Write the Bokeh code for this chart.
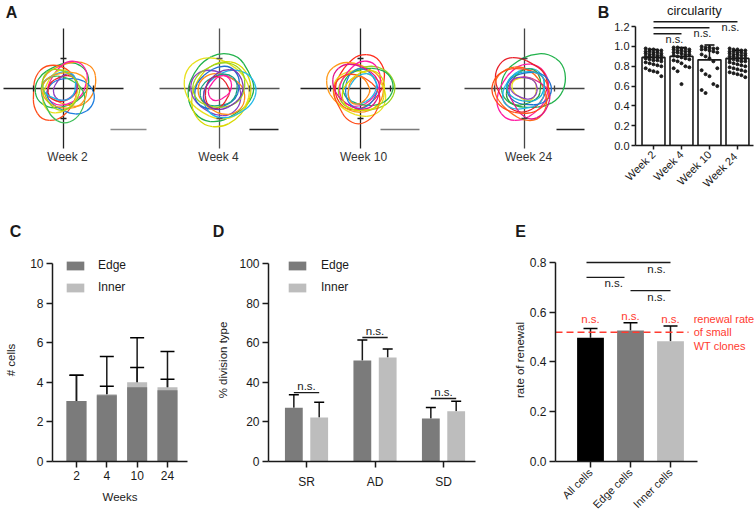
import math
from bokeh.plotting import figure
from bokeh.layouts import row, column
from bokeh.models import (Range1d, FixedTicker, Whisker, TeeHead, ColumnDataSource,
                          Legend, LegendItem, NumeralTickFormatter)
from bokeh.core.properties import value
from bokeh.embed import file_html
from bokeh.resources import INLINE

FONT = "Liberation Sans"
BLACK = "#1a1a1a"
EDGE_C = "#7b7b7b"
INNER_C = "#bdbdbd"
RED = "#ff3b30"

# ---------------- Panel A data (clone outlines: radii in px at 12 equal angles)
A_WEEKS = ["Week 2", "Week 4", "Week 10", "Week 24"]

W2_COLORS = ["#22b24c", "#ff8c1a", "#ff4d1a", "#ff1aa3", "#1f7fe0", "#e8e01c", "#3fbf5a", "#e8202a",
             "#8a3fc0", "#1fb8e8", "#ff9a1a", "#9ad41c"]
W2_DX = [-2, 3, -6, 4, 6, -2, 0, 0, 2, -4, 2, -3]
W2_DY = [3, 5, -4, 2, -6, -4, -8, 0, 1, 2, -2, 0]
W2_R = [[28, 30, 27, 22, 20, 23, 27, 29, 26, 22, 21, 24],
        [30, 32, 26, 20, 19, 22, 26, 24, 20, 22, 27, 29],
        [20, 22, 25, 28, 30, 27, 24, 28, 32, 28, 22, 19],
        [18, 24, 28, 26, 20, 18, 20, 24, 22, 18, 16, 17],
        [26, 22, 18, 16, 18, 22, 24, 20, 17, 19, 23, 26],
        [16, 18, 22, 24, 20, 17, 18, 22, 24, 20, 17, 16],
        [22, 20, 18, 20, 24, 26, 22, 20, 24, 28, 26, 23],
        [14, 16, 15, 13, 12, 14, 16, 17, 15, 13, 12, 13],
        [12, 13, 15, 14, 11, 10, 12, 14, 15, 13, 11, 11],
        [16, 19, 18, 14, 13, 15, 18, 16, 13, 14, 16, 17],
        [22, 24, 21, 18, 19, 23, 25, 22, 19, 18, 20, 22],
        [20, 18, 17, 19, 22, 21, 18, 17, 20, 23, 22, 20]]

W4_COLORS = ["#22b24c", "#e8e01c", "#d8d800", "#8a3fc0", "#1fb8e8", "#1f6fd0", "#ff8c1a", "#16a085",
             "#e8202a", "#ff1aa3", "#9ad41c", "#7a35b0"]
W4_DX = [0, -3, 2, -4, 8, -2, 2, 0, -3, 0, 0, 4]
W4_DY = [0, 0, -6, -4, -2, 0, -6, -2, -4, 0, 2, -2]
W4_R = [[36, 34, 38, 36, 32, 30, 32, 35, 37, 34, 30, 33],
        [34, 30, 28, 31, 35, 36, 33, 30, 28, 31, 34, 35],
        [30, 33, 36, 34, 30, 28, 30, 34, 36, 33, 29, 28],
        [26, 24, 20, 22, 26, 28, 25, 22, 20, 23, 27, 28],
        [30, 28, 24, 20, 18, 20, 24, 28, 30, 28, 26, 28],
        [22, 25, 26, 22, 19, 20, 23, 26, 24, 20, 19, 21],
        [24, 22, 19, 21, 24, 26, 24, 20, 18, 20, 23, 25],
        [18, 20, 19, 16, 15, 17, 20, 21, 18, 15, 16, 17],
        [14, 13, 15, 17, 15, 12, 11, 13, 16, 17, 14, 12],
        [12, 14, 15, 13, 10, 9, 11, 13, 14, 12, 10, 11],
        [26, 28, 27, 24, 22, 25, 28, 27, 23, 21, 23, 25],
        [20, 22, 24, 21, 18, 17, 20, 23, 22, 19, 17, 18]]

W10_COLORS = ["#ff2a1a", "#ff9a1a", "#9ad41c", "#e8e01c", "#ff1aa3", "#22b24c", "#1f7fe0", "#ff4d1a",
              "#1fb8e8", "#ff8c1a", "#e0148c", "#d8d800"]
W10_DX = [-2, -6, 4, 0, 0, 6, 0, -2, 2, -2, -4, 4]
W10_DY = [6, 0, 0, -6, 4, 2, 0, -8, 0, -2, 2, -4]
W10_R = [[26, 30, 32, 28, 22, 20, 23, 27, 30, 28, 24, 24],
         [30, 28, 24, 26, 30, 32, 28, 24, 22, 24, 27, 30],
         [32, 30, 26, 22, 21, 24, 27, 28, 25, 22, 24, 29],
         [26, 24, 22, 24, 27, 30, 28, 24, 21, 22, 25, 27],
         [20, 23, 26, 24, 19, 18, 21, 24, 25, 22, 19, 18],
         [28, 26, 21, 18, 19, 22, 25, 24, 20, 19, 22, 26],
         [18, 17, 19, 21, 19, 16, 15, 17, 20, 21, 19, 17],
         [22, 20, 19, 22, 26, 28, 25, 22, 26, 29, 26, 23],
         [14, 16, 17, 15, 13, 12, 14, 17, 18, 15, 13, 13],
         [12, 11, 13, 15, 13, 11, 10, 12, 15, 14, 12, 11],
         [24, 22, 20, 22, 26, 27, 24, 21, 20, 23, 26, 25],
         [20, 23, 25, 22, 19, 20, 23, 24, 21, 18, 19, 21]]

W24_COLORS = ["#22b24c", "#ff1aa3", "#e8202a", "#ff6a1a", "#1fb8e8", "#1f6fd0", "#2e9e3e", "#e0148c",
              "#e8e01c", "#8a3fc0", "#ff4d1a", "#17b0d8"]
W24_DX = [6, -2, -4, -2, 0, 4, 0, 6, 0, -1, -4, 2]
W24_DY = [6, -4, 4, -6, -2, 0, 0, -6, 0, 1, -2, 2]
W24_R = [[36, 38, 34, 28, 25, 27, 30, 32, 28, 25, 28, 33],
         [26, 30, 32, 29, 24, 22, 25, 30, 32, 28, 24, 24],
         [28, 27, 24, 27, 31, 29, 25, 23, 26, 29, 28, 27],
         [24, 22, 24, 28, 31, 32, 28, 23, 22, 26, 30, 28],
         [20, 23, 25, 22, 20, 19, 22, 25, 22, 18, 19, 21],
         [24, 22, 19, 16, 17, 21, 23, 21, 18, 16, 19, 23],
         [16, 19, 22, 20, 16, 15, 18, 21, 20, 16, 15, 17],
         [20, 17, 15, 17, 21, 24, 22, 19, 22, 26, 24, 21],
         [12, 13, 12, 11, 12, 14, 13, 11, 10, 12, 14, 13],
         [14, 13, 11, 10, 12, 15, 14, 12, 10, 11, 14, 15],
         [30, 27, 23, 22, 25, 29, 30, 27, 24, 23, 26, 29],
         [18, 20, 17, 15, 16, 19, 21, 19, 16, 15, 17, 18]]

# ---------------- Panel B data
B_WEEKS = ["Week 2", "Week 4", "Week 10", "Week  24"]
B_MEAN = [0.89, 0.90, 0.865, 0.88]
B_SD = [0.08, 0.09, 0.15, 0.08]
B_W2 = [0.98, 0.97, 0.97, 0.96, 0.96, 0.95, 0.95, 0.94, 0.94, 0.93, 0.93, 0.92, 0.92, 0.91, 0.91,
        0.90, 0.90, 0.89, 0.89, 0.88, 0.88, 0.87, 0.86, 0.86, 0.85, 0.84, 0.83, 0.82, 0.81, 0.80,
        0.78, 0.76, 0.75, 0.74, 0.70]
B_W4 = [0.99, 0.99, 0.98, 0.98, 0.97, 0.97, 0.96, 0.96, 0.95, 0.95, 0.94, 0.94, 0.93, 0.92,
        0.92, 0.91, 0.90, 0.89, 0.88, 0.87, 0.86, 0.85, 0.83, 0.80, 0.79, 0.78, 0.75, 0.62]
B_W10 = [1.00, 0.99, 0.99, 0.98, 0.98, 0.97, 0.97, 0.96, 0.95, 0.94, 0.92, 0.90, 0.88, 0.85,
         0.78, 0.76, 0.72, 0.70, 0.62, 0.60, 0.56, 0.53]
B_W24 = [0.98, 0.97, 0.97, 0.96, 0.96, 0.95, 0.95, 0.94, 0.94, 0.93, 0.93, 0.92, 0.92, 0.91,
         0.91, 0.90, 0.90, 0.89, 0.88, 0.88, 0.87, 0.87, 0.86, 0.85, 0.85, 0.84, 0.83, 0.82,
         0.81, 0.80, 0.79, 0.78, 0.77, 0.76, 0.75, 0.74, 0.73, 0.72, 0.71, 0.69]
B_SIG_END = [1, 2, 3]
B_SIG_Y = [1.13, 1.19, 1.25]
B_YTICKS = [0.0, 0.2, 0.4, 0.6, 0.8, 1.0, 1.2]

# ---------------- Panel C data
C_WEEKS = ["2", "4", "10", "24"]
C_EDGE = [3.05, 3.35, 3.75, 3.6]
C_INNER = [3.05, 3.4, 4.0, 3.75]
C_EDGE_TOP = [4.35, 5.3, 6.25, 5.55]
C_INNER_TOP = [4.35, 3.8, 4.75, 4.15]
C_YTICKS = [0, 2, 4, 6, 8, 10]

# ---------------- Panel D data
D_TYPES = ["SR", "AD", "SD"]
D_EDGE = [27.2, 51.0, 21.7]
D_EDGE_TOP = [33.7, 61.4, 27.3]
D_INNER = [22.2, 52.5, 25.4]
D_INNER_TOP = [29.9, 56.8, 30.4]
D_SIG_Y = [34.8, 62.6, 31.8]
D_YTICKS = [0, 20, 40, 60, 80, 100]

# ---------------- Panel E data
E_CATS = ["All cells", "Edge cells", "Inner cells"]
E_MEAN = [0.497, 0.527, 0.483]
E_TOP = [0.535, 0.558, 0.545]
E_WT_RATE = 0.52
E_YTICKS = [0.0, 0.2, 0.4, 0.6, 0.8]


def style(p, fs="12px"):
    for ax in p.axis:
        ax.axis_line_width = 1.5
        ax.axis_line_color = BLACK
        ax.major_tick_line_width = 1.5
        ax.major_tick_line_color = BLACK
        ax.major_tick_out = 6
        ax.major_tick_in = 0
        ax.minor_tick_line_color = None
        ax.major_label_text_font = FONT
        ax.major_label_text_font_size = fs
        ax.major_label_text_color = BLACK
        ax.major_label_standoff = 3
        ax.axis_label_text_font = FONT
        ax.axis_label_text_font_style = "normal"
        ax.axis_label_text_font_size = "11.5px"
        ax.axis_label_text_color = BLACK
    p.grid.visible = False
    p.outline_line_color = None
    p.background_fill_color = None
    p.border_fill_color = None


def txt(p, x, y, s, size="11px", color=BLACK, align="center", bold=False):
    p.text(x=x, y=y, text=s, text_align=align, text_baseline="middle",
           text_font=value(FONT), text_font_size=size, text_color=color,
           text_font_style="bold" if bold else "normal")


def fig(fw, fh, xr, yr, bl, br, bt, bb, axes=True):
    kw = {}
    if not axes:
        kw = dict(x_axis_location=None, y_axis_location=None)
    return figure(frame_width=fw, frame_height=fh, x_range=Range1d(*xr), y_range=Range1d(*yr),
                  min_border_left=bl, min_border_right=br, min_border_top=bt, min_border_bottom=bb,
                  output_backend="svg", toolbar_location=None, **kw)


# ======================= Panel A (also hosts the panel letters)
pA = fig(610, 240, (0, 610), (-240, 0), 0, 0, 0, 0, axes=False)
style(pA)
A_CX = [63, 219, 360, 524]
A_CY = -88
ARM, TD, TL = 60, 30, 3
A_ALL = [(W2_COLORS, W2_DX, W2_DY, W2_R), (W4_COLORS, W4_DX, W4_DY, W4_R),
         (W10_COLORS, W10_DX, W10_DY, W10_R), (W24_COLORS, W24_DX, W24_DY, W24_R)]
cross_col = ["#222222", "#555555", "#222222", "#444444"]
for k, (cols, dxs, dys, rads) in enumerate(A_ALL):
    cx0 = A_CX[k]
    pA.segment(x0=[cx0 - ARM, cx0], y0=[A_CY, A_CY - ARM], x1=[cx0 + ARM, cx0], y1=[A_CY, A_CY + ARM],
               line_color=cross_col[k], line_width=1.3)
    d = dict(x0=[], y0=[], x1=[], y1=[], cx=[], cy=[], c=[])
    for col, dx, dy, rr in zip(cols, dxs, dys, rads):
        n = len(rr)
        px = [cx0 + dx + r * math.cos(2 * math.pi * i / n) for i, r in enumerate(rr)]
        py = [A_CY + dy + r * math.sin(2 * math.pi * i / n) for i, r in enumerate(rr)]
        for i in range(n):
            a, b = (i - 1) % n, (i + 1) % n
            d["x0"].append((px[a] + px[i]) / 2); d["y0"].append((py[a] + py[i]) / 2)
            d["x1"].append((px[b] + px[i]) / 2); d["y1"].append((py[b] + py[i]) / 2)
            d["cx"].append(px[i]); d["cy"].append(py[i]); d["c"].append(col)
    pA.quadratic(x0="x0", y0="y0", x1="x1", y1="y1", cx="cx", cy="cy", line_color="c",
                 line_width=1.3, source=ColumnDataSource(d))
    pA.segment(x0=[cx0 - TL, cx0 - TL, cx0 - TD, cx0 + TD], y0=[A_CY + TD, A_CY - TD, A_CY - TL, A_CY - TL],
               x1=[cx0 + TL, cx0 + TL, cx0 - TD, cx0 + TD], y1=[A_CY + TD, A_CY - TD, A_CY + TL, A_CY + TL],
               line_color=cross_col[k], line_width=1.3)
pA.segment(x0=[110, 249, 380, 556], y0=[-129] * 4, x1=[146, 278, 419, 584], y1=[-129] * 4,
           line_color=["#8a8a8a", "#222222", "#7a7a7a", "#222222"], line_width=1.6)
txt(pA, [67, 218, 363, 528], [-156] * 4, A_WEEKS, size="12px", color="#333333")
txt(pA, [11, 603, 15, 218, 520], [-12, -12, -231, -231, -231], ["A", "B", "C", "D", "E"],
    size="16px", bold=True)

# ======================= Panel B
pB = fig(121, 145, (-0.643, 3.68), (0, 1.4646), 25, 0, 0, 95)
style(pB, fs="11px")
pB.yaxis.ticker = FixedTicker(ticks=B_YTICKS)
pB.yaxis.formatter = NumeralTickFormatter(format="0.0")
pB.yaxis.bounds = (0, 1.2)
pB.yaxis.major_tick_out = 4
pB.yaxis.major_label_standoff = 2
pB.xaxis.ticker = FixedTicker(ticks=[0, 1, 2, 3])
pB.xaxis.major_label_overrides = {i: w for i, w in enumerate(B_WEEKS)}
pB.xaxis.major_label_orientation = math.pi / 4
pB.xaxis.major_tick_out = 4
pB.xaxis.bounds = (-0.643, 3.57)
xs = list(range(4))
pB.vbar(x=xs, top=B_MEAN, width=0.82, fill_color="white", line_color=BLACK, line_width=1.6)
srcB = ColumnDataSource(dict(x=xs, lo=[m - s for m, s in zip(B_MEAN, B_SD)], hi=[m + s for m, s in zip(B_MEAN, B_SD)]))
pB.add_layout(Whisker(base="x", lower="lo", upper="hi", source=srcB, line_width=1.5, line_color=BLACK,
                      upper_head=TeeHead(size=10, line_width=1.5), lower_head=TeeHead(size=10, line_width=1.5)))
cols5 = [-0.28, -0.14, 0.0, 0.14, 0.28]
for k, vals in enumerate([B_W2, B_W4, B_W10, B_W24]):
    pB.scatter(x=[k + cols5[i % 5] for i in range(len(vals))], y=vals, size=3, color=BLACK)
pB.segment(x0=[0, 0, 0], y0=B_SIG_Y, x1=B_SIG_END, y1=B_SIG_Y, line_color=BLACK, line_width=1.5)
txt(pB, [e - 0.25 for e in B_SIG_END], [y - 0.05 for y in B_SIG_Y], ["n.s."] * 3, size="11px")
txt(pB, [1.46], [1.364], ["circularity"], size="13px")

# ======================= Panel C
pC = fig(135, 203, (-0.79, 3.66), (0, 10.25), 52, 26, 18, 58)
style(pC)
pC.yaxis.ticker = FixedTicker(ticks=C_YTICKS)
pC.yaxis.bounds = (0, 10)
pC.yaxis.axis_label = "# cells"
pC.yaxis.axis_label_standoff = 10
pC.xaxis.ticker = FixedTicker(ticks=[0, 1, 2, 3])
pC.xaxis.major_label_overrides = {i: w for i, w in enumerate(C_WEEKS)}
pC.xaxis.axis_label = "Weeks"
pC.xaxis.axis_label_standoff = 8
xs = list(range(4))
rin = pC.vbar(x=xs, top=C_INNER, width=0.66, fill_color=INNER_C, line_color=None)
red_ = pC.vbar(x=xs, top=C_EDGE, width=0.66, fill_color=EDGE_C, line_color=None)
for tops, bases in [(C_EDGE_TOP, C_EDGE), (C_INNER_TOP, C_INNER)]:
    s = ColumnDataSource(dict(x=xs, lo=bases, hi=tops))
    pC.add_layout(Whisker(base="x", lower="lo", upper="hi", source=s, line_width=1.5, line_color=BLACK,
                          upper_head=TeeHead(size=14, line_width=1.5), lower_head=None))
legC = Legend(items=[LegendItem(label="Edge", renderers=[red_]), LegendItem(label="Inner", renderers=[rin])],
              location=(12, 167), padding=0, margin=0, spacing=8, glyph_width=22, glyph_height=11,
              label_height=11, label_standoff=12, label_text_font=FONT, label_text_font_size="12px",
              label_text_color=BLACK, border_line_color=None, background_fill_alpha=0)
pC.add_layout(legC)

# ======================= Panel D
pD = fig(207, 203, (-0.555, 2.467), (0, 102.5), 55, 3, 18, 58)
style(pD)
pD.yaxis.ticker = FixedTicker(ticks=D_YTICKS)
pD.yaxis.bounds = (0, 100)
pD.yaxis.axis_label = "% division type"
pD.yaxis.axis_label_standoff = 7
pD.xaxis.ticker = FixedTicker(ticks=[0, 1, 2])
pD.xaxis.major_label_overrides = {i: w for i, w in enumerate(D_TYPES)}
pD.xaxis.major_label_standoff = 7
xs = [0, 1, 2]
OFF = 0.185
xe = [x - OFF for x in xs]
xi = [x + OFF for x in xs]
rDe = pD.vbar(x=xe, top=D_EDGE, width=0.26, fill_color=EDGE_C, line_color=None)
rDi = pD.vbar(x=xi, top=D_INNER, width=0.26, fill_color=INNER_C, line_color=None)
for xx, tops, bases in [(xe, D_EDGE_TOP, D_EDGE), (xi, D_INNER_TOP, D_INNER)]:
    s = ColumnDataSource(dict(x=xx, lo=bases, hi=tops))
    pD.add_layout(Whisker(base="x", lower="lo", upper="hi", source=s, line_width=1.5, line_color=BLACK,
                          upper_head=TeeHead(size=10, line_width=1.5), lower_head=None))
pD.segment(x0=xe, y0=D_SIG_Y, x1=xi, y1=D_SIG_Y, line_color=BLACK, line_width=1.3)
txt(pD, xs, [y + 3.2 for y in D_SIG_Y], ["n.s."] * 3, size="11.5px")
legD = Legend(items=[LegendItem(label="Edge", renderers=[rDe]), LegendItem(label="Inner", renderers=[rDi])],
              location=(18, 167), padding=0, margin=0, spacing=8, glyph_width=22, glyph_height=11,
              label_height=11, label_standoff=13, label_text_font=FONT, label_text_font_size="12px",
              label_text_color=BLACK, border_line_color=None, background_fill_alpha=0)
pD.add_layout(legD)

# ======================= Panel E
pE = fig(201, 203, (-0.875, 4.15), (0, 0.816), 77, 0, 18, 58)
style(pE)
pE.yaxis.ticker = FixedTicker(ticks=E_YTICKS)
pE.yaxis.formatter = NumeralTickFormatter(format="0.0")
pE.yaxis.bounds = (0, 0.8)
pE.yaxis.axis_label = "rate of renewal"
pE.yaxis.axis_label_standoff = 1
pE.xaxis.ticker = FixedTicker(ticks=[0, 1, 2])
pE.xaxis.major_label_overrides = {i: w for i, w in enumerate(E_CATS)}
pE.xaxis.major_label_orientation = math.pi / 4
pE.xaxis.major_label_text_font_size = "11px"
pE.xaxis.bounds = (-0.875, 2.675)
xs = [0, 1, 2]
pE.vbar(x=xs, top=E_MEAN, width=0.67, fill_color=["#000000", EDGE_C, INNER_C], line_color=None)
sE = ColumnDataSource(dict(x=xs, lo=E_MEAN, hi=E_TOP))
pE.add_layout(Whisker(base="x", lower="lo", upper="hi", source=sE, line_width=1.5, line_color=BLACK,
                      upper_head=TeeHead(size=14, line_width=1.5), lower_head=None))
pE.segment(x0=[-0.875], y0=[E_WT_RATE], x1=[2.45], y1=[E_WT_RATE], line_color=RED, line_width=1.5,
           line_dash="7 4")
txt(pE, [2.58, 2.58, 2.58], [0.571, 0.519, 0.466], ["renewal rate", "of small", "WT clones"],
    size="11px", color=RED, align="left")
txt(pE, xs, [0.571, 0.585, 0.571], ["n.s."] * 3, size="11.5px", color=RED)
pE.segment(x0=[-0.1, -0.1, 1.0], y0=[0.8, 0.74, 0.687], x1=[2.0, 0.85, 2.0], y1=[0.8, 0.74, 0.687],
           line_color=BLACK, line_width=1.3)
txt(pE, [1.65, 0.58, 1.65], [0.772, 0.716, 0.66], ["n.s."] * 3, size="11.5px")

layout = column(row(pA, pB), row(pC, pD, pE))
open("out.html", "w").write(file_html(layout, INLINE))
